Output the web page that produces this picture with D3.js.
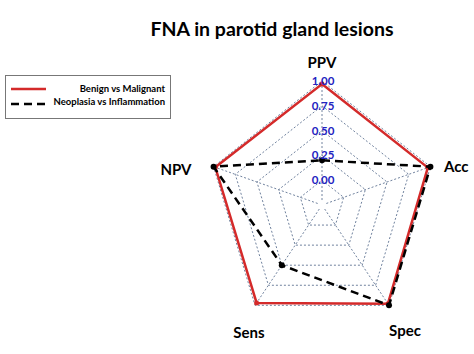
<!DOCTYPE html>
<html>
<head>
<meta charset="utf-8">
<script src="https://cdn.jsdelivr.net/npm/d3@7"></script>
<style>
  body { margin: 0; background: #fff; }
  text { font-family: Lato, "Open Sans", sans-serif; }
</style>
</head>
<body>
<div id="chart"></div>
<script>
const axes = ['PPV', 'Acc', 'Spec', 'Sens', 'NPV'];
const benignVsMalignant = [0.97, 0.97, 0.98, 0.97, 0.98];
const neoplasiaVsInflammation = [0.2, 1.0, 1.0, 0.5, 1.0];
const ticks = [0, 0.25, 0.5, 0.75, 1.0];
const seriesNames = ['Benign vs Malignant', 'Neoplasia vs Inflammation'];

const width = 474, height = 354;
const cx = 322, cy = 205;

const svg = d3.select('#chart')
    .append('svg')
    .attr('width', width)
    .attr('height', height);

// picture is a bit taller than wide, so two radial scales
const rx = d3.scaleLinear().domain([-0.25, 1]).range([0, 114]);
const ry = d3.scaleLinear().domain([-0.25, 1]).range([0, 124]);

const angle = d3.scaleLinear().domain([0, axes.length]).range([0, 2 * Math.PI]);

function pt(i, v){
    const a = angle(i);
    return [cx + rx(v) * Math.sin(a), cy - ry(v) * Math.cos(a)];
}

const gridColor = '#70829e';

// rings
svg.selectAll('.ring')
    .data(ticks)
    .enter()
    .append('polygon')
    .attr('class', 'ring')
    .attr('points', t => axes.map((a, i) => pt(i, t).join(',')).join(' '))
    .attr('fill', 'none')
    .attr('stroke', gridColor)
    .attr('stroke-width', 1)
    .attr('stroke-dasharray', '2,2');

// spokes
svg.selectAll('.spoke')
    .data(axes)
    .enter()
    .append('line')
    .attr('class', 'spoke')
    .attr('x1', (d, i) => pt(i, -0.2)[0])
    .attr('y1', (d, i) => pt(i, -0.2)[1])
    .attr('x2', (d, i) => pt(i, 1)[0])
    .attr('y2', (d, i) => pt(i, 1)[1])
    .attr('stroke', gridColor)
    .attr('stroke-width', 1)
    .attr('stroke-dasharray', '2,2');

const line = d3.line().curve(d3.curveLinearClosed);

// series
svg.append('path')
    .datum(benignVsMalignant.map((v, i) => pt(i, v)))
    .attr('d', line)
    .attr('fill', 'none')
    .attr('stroke', '#d42a2a')
    .attr('stroke-width', 2.5);

svg.selectAll('.dotRed')
    .data(benignVsMalignant)
    .enter()
    .append('circle')
    .attr('class', 'dotRed')
    .attr('cx', (d, i) => pt(i, d)[0])
    .attr('cy', (d, i) => pt(i, d)[1])
    .attr('r', 2.5)
    .attr('fill', '#d42a2a');

svg.append('path')
    .datum(neoplasiaVsInflammation.map((v, i) => pt(i, v)))
    .attr('d', line)
    .attr('fill', 'none')
    .attr('stroke', '#000')
    .attr('stroke-width', 2.5)
    .attr('stroke-dasharray', '8,5');

svg.selectAll('.dotBlack')
    .data(neoplasiaVsInflammation)
    .enter()
    .append('circle')
    .attr('class', 'dotBlack')
    .attr('cx', (d, i) => pt(i, d)[0])
    .attr('cy', (d, i) => pt(i, d)[1])
    .attr('r', 3)
    .attr('fill', '#000');

// tick labels along top axis
svg.selectAll('.tick')
    .data(ticks)
    .enter()
    .append('text')
    .attr('class', 'tick')
    .attr('x', cx + 1)
    .attr('y', t => cy - ry(t) + 4)
    .attr('text-anchor', 'middle')
    .attr('font-size', 11.5)
    .attr('font-weight', 'bold')
    .attr('fill', '#2323c0')
    .text(t => t.toFixed(2));

// axis labels
const labelPos = [[322, 68, 'middle'], [444, 172, 'start'], [405, 336, 'middle'], [249, 338, 'middle'], [176, 175, 'middle']];
svg.selectAll('.axisLabel')
    .data(axes)
    .enter()
    .append('text')
    .attr('class', 'axisLabel')
    .attr('x', (d, i) => labelPos[i][0])
    .attr('y', (d, i) => labelPos[i][1])
    .attr('text-anchor', (d, i) => labelPos[i][2])
    .attr('font-size', 15)
    .attr('font-weight', 'bold')
    .text(d => d);

// title
svg.append('text')
    .attr('x', 272)
    .attr('y', 36)
    .attr('text-anchor', 'middle')
    .attr('font-size', 19.5)
    .attr('font-weight', 'bold')
    .text('FNA in parotid gland lesions');

// legend
const legend = svg.append('g');
legend.append('rect')
    .attr('x', 5.5).attr('y', 75.5)
    .attr('width', 165).attr('height', 43)
    .attr('fill', '#fff')
    .attr('stroke', '#777')
    .attr('stroke-width', 1);

legend.selectAll('.legLine')
    .data(seriesNames)
    .enter()
    .append('line')
    .attr('x1', 11).attr('x2', 46)
    .attr('y1', (d, i) => 89 + i * 15)
    .attr('y2', (d, i) => 89 + i * 15)
    .attr('stroke', (d, i) => i === 0 ? '#d42a2a' : '#000')
    .attr('stroke-width', 2.5)
    .attr('stroke-dasharray', (d, i) => i === 0 ? null : '8,5');

legend.selectAll('.legText')
    .data(seriesNames)
    .enter()
    .append('text')
    .attr('x', 165)
    .attr('y', (d, i) => 92 + i * 13)
    .attr('text-anchor', 'end')
    .attr('font-size', 9.5)
    .attr('font-weight', 'bold')
    .text(d => d);
</script>
</body>
</html>
